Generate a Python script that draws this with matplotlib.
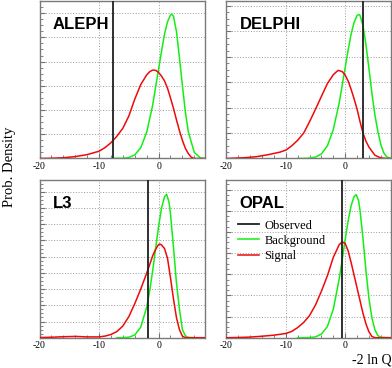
import matplotlib
matplotlib.use("Agg")
import matplotlib.pyplot as plt
from matplotlib.ticker import MultipleLocator, AutoMinorLocator
from matplotlib.lines import Line2D

plt.rcParams['axes.unicode_minus'] = False

# panel names, observed -2lnQ and the y range (in grid units)
experiments = ["ALEPH", "DELPHI", "L3", "OPAL"]
observed = [-7.6, 3.0, -1.75, -0.62]
y_top = [6.5, 6.2, 9.73, 7.45]

# ALEPH
aleph_bkg_x = [-8, -7, -6, -5, -4, -3, -2, -1, 0, 0.5, 1, 1.5, 2, 2.25, 2.5, 3, 3.5, 4, 4.5, 5, 6, 7, 7.8]
aleph_bkg_y = [0, 0.01, 0.01, 0.04, 0.15, 0.44, 1.08, 2.19, 3.69, 4.43, 5.14, 5.64, 5.92, 5.95, 5.87, 5.25,
               4.17, 3.02, 1.92, 1.1, 0.25, 0.03, 0]
aleph_sig_x = [-20, -18, -16, -14, -12, -10, -9, -8, -7, -6, -5, -4, -3, -2, -1.5, -1, -0.5, 0, 0.5, 1, 1.5,
               2, 2.5, 3, 3.5, 4, 4.5, 5, 5.5, 6, 7.8]
aleph_sig_y = [0.0, 0.01, 0.03, 0.08, 0.16, 0.3, 0.45, 0.65, 0.92, 1.25, 1.75, 2.45, 3.05, 3.45, 3.58, 3.65,
               3.64, 3.55, 3.4, 3.2, 2.9, 2.5, 2.07, 1.6, 1.15, 0.75, 0.42, 0.2, 0.05, 0.0, 0.0]

# DELPHI
delphi_bkg_x = [-8, -7, -6, -5, -4, -3, -2, -1, 0, 0.5, 1, 1.5, 2, 2.3, 2.5, 3, 3.5, 4, 4.5, 5, 5.5, 6, 6.5, 7, 7.8]
delphi_bkg_y = [0, 0.003, 0.014, 0.055, 0.18, 0.5, 1.14, 2.2, 3.58, 4.28, 4.9, 5.36, 5.63, 5.67, 5.63, 5.23,
                4.48, 3.54, 2.57, 1.72, 1.07, 0.55, 0.22, 0.06, 0]
delphi_sig_x = [-20, -19, -17, -15, -13, -11, -10, -9, -8, -7, -6, -5, -4, -3, -2, -1.2, -0.5, 0, 0.5, 1, 1.5,
                2, 2.5, 3, 3.5, 4, 5, 6, 7, 7.8]
delphi_sig_y = [0, 0.01, 0.03, 0.07, 0.15, 0.25, 0.33, 0.5, 0.72, 1.0, 1.45, 1.94, 2.45, 2.95, 3.3, 3.47, 3.42,
                3.28, 3.05, 2.72, 2.35, 1.94, 1.45, 1.0, 0.68, 0.45, 0.13, 0.02, 0, 0]

# L3
l3_bkg_x = [-7, -6, -5, -4, -3, -2, -1.5, -1, -0.5, 0, 0.5, 1, 1.35, 1.75, 2, 2.5, 3, 3.5, 4, 4.5, 5, 6, 7.8]
l3_bkg_y = [0, 0.005, 0.03, 0.17, 0.65, 1.88, 2.88, 4.12, 5.5, 6.87, 8.0, 8.7, 8.85, 8.37, 7.65, 5.59, 3.4,
            1.78, 0.5, 0.12, 0.02, 0, 0]
l3_sig_x = [-20, -18, -16, -14, -12, -10, -9, -8, -7, -6, -5, -4, -3, -2, -1.5, -1, -0.5, 0, 0.22, 0.5, 1, 1.5,
            2, 2.5, 3, 3.5, 4, 4.5, 7.8]
l3_sig_y = [0.01, 0.03, 0.06, 0.08, 0.05, 0.05, 0.1, 0.2, 0.38, 0.72, 1.3, 2.1, 3.0, 3.98, 4.5, 5.05, 5.45,
            5.75, 5.78, 5.72, 5.5, 4.9, 3.7, 2.4, 1.25, 0.5, 0.1, 0.0, 0.0]

# OPAL
opal_bkg_x = [-8, -7, -6, -5, -4, -3, -2, -1, -0.5, 0, 0.5, 1, 1.5, 1.86, 2.25, 2.5, 3, 3.5, 4, 4.5, 5, 5.5, 6, 7.8]
opal_bkg_y = [0, 0.001, 0.008, 0.04, 0.17, 0.53, 1.35, 2.79, 3.7, 4.65, 5.53, 6.24, 6.67, 6.76, 6.48, 6.02,
              4.68, 3.16, 1.86, 0.94, 0.38, 0.1, 0.02, 0]
opal_sig_x = [-20, -18, -16, -14, -12, -10, -9, -8, -7, -6, -5, -4, -3, -2, -1, -0.5, 0, 0.5, 1, 1.5, 2, 2.5,
              3, 3.5, 4, 4.5, 5, 7.8]
opal_sig_y = [0.0, 0.01, 0.03, 0.07, 0.12, 0.2, 0.3, 0.48, 0.72, 1.05, 1.55, 2.2, 2.93, 3.8, 4.4, 4.53, 4.45,
              4.1, 3.55, 2.95, 2.35, 1.75, 1.15, 0.65, 0.28, 0.06, 0.0, 0.0]

bkg = [(aleph_bkg_x, aleph_bkg_y), (delphi_bkg_x, delphi_bkg_y), (l3_bkg_x, l3_bkg_y), (opal_bkg_x, opal_bkg_y)]
sig = [(aleph_sig_x, aleph_sig_y), (delphi_sig_x, delphi_sig_y), (l3_sig_x, l3_sig_y), (opal_sig_x, opal_sig_y)]

GREEN = '#14ee14'
RED = '#ee0a0a'
OBS = '#202020'
SERIF = 'Liberation Serif'

fig = plt.figure(figsize=(3.92, 3.68), dpi=100)

# axes boxes in figure fractions (left, bottom, width, height)
boxes = [(0.1008, 0.5693, 0.4222, 0.428),
         (0.5778, 0.5693, 0.4209, 0.428),
         (0.1008, 0.0823, 0.4222, 0.4285),
         (0.5778, 0.0823, 0.4209, 0.4285)]

for i, name in enumerate(experiments):
    ax = fig.add_axes(boxes[i])
    ax.set_xlim(-20, 7.8)
    ax.set_ylim(0, y_top[i])

    ax.plot(bkg[i][0], bkg[i][1], color=GREEN, lw=1.1, zorder=3)
    ax.plot(sig[i][0], sig[i][1], color=RED, lw=1.1, zorder=3)
    ax.axvline(observed[i], color=OBS, lw=1.3, zorder=4)

    ax.xaxis.set_major_locator(MultipleLocator(10))
    ax.xaxis.set_minor_locator(AutoMinorLocator(5))
    ax.yaxis.set_major_locator(MultipleLocator(1))
    ax.yaxis.set_minor_locator(AutoMinorLocator(4))
    ax.tick_params(which='both', direction='in', colors='#707070', top=False, right=False)
    ax.tick_params(which='major', length=3.5, width=0.8)
    ax.tick_params(which='minor', length=2, width=0.6)
    ax.tick_params(axis='x', labelcolor='black', labelsize=7, pad=2.5)
    ax.set_yticklabels([])
    for lab in ax.get_xticklabels():
        lab.set_family(SERIF)

    ax.grid(True, which='major', color='#9a9a9a', lw=0.7, linestyle=(0, (1, 1.8)), zorder=1)
    ax.set_axisbelow(True)
    for sp in ax.spines.values():
        sp.set_color('#7a7a7a')
        sp.set_linewidth(1.0)

    ax.text(0.08, 0.90, name, transform=ax.transAxes, ha='left', va='top',
            fontsize=12, fontweight='bold', family='Liberation Sans')

    if name == "OPAL":
        handles = [Line2D([], [], color=OBS, lw=1.3),
                   Line2D([], [], color=GREEN, lw=1.1),
                   Line2D([], [], color=RED, lw=1.1)]
        ax.legend(handles, ["Observed", "Background", "Signal"], loc='upper left',
                  bbox_to_anchor=(0.04, 0.78), frameon=False, borderaxespad=0,
                  handlelength=1.7, handletextpad=0.4, labelspacing=0.25,
                  prop={'family': SERIF, 'size': 9})

fig.text(0.025, 0.546, "Prob. Density", rotation=90, ha='center', va='center',
         fontsize=10.5, family=SERIF)
fig.text(0.999, 0.022, "-2 ln Q", ha='right', va='center', fontsize=10, family=SERIF)

fig.savefig("out.png", dpi=100)
